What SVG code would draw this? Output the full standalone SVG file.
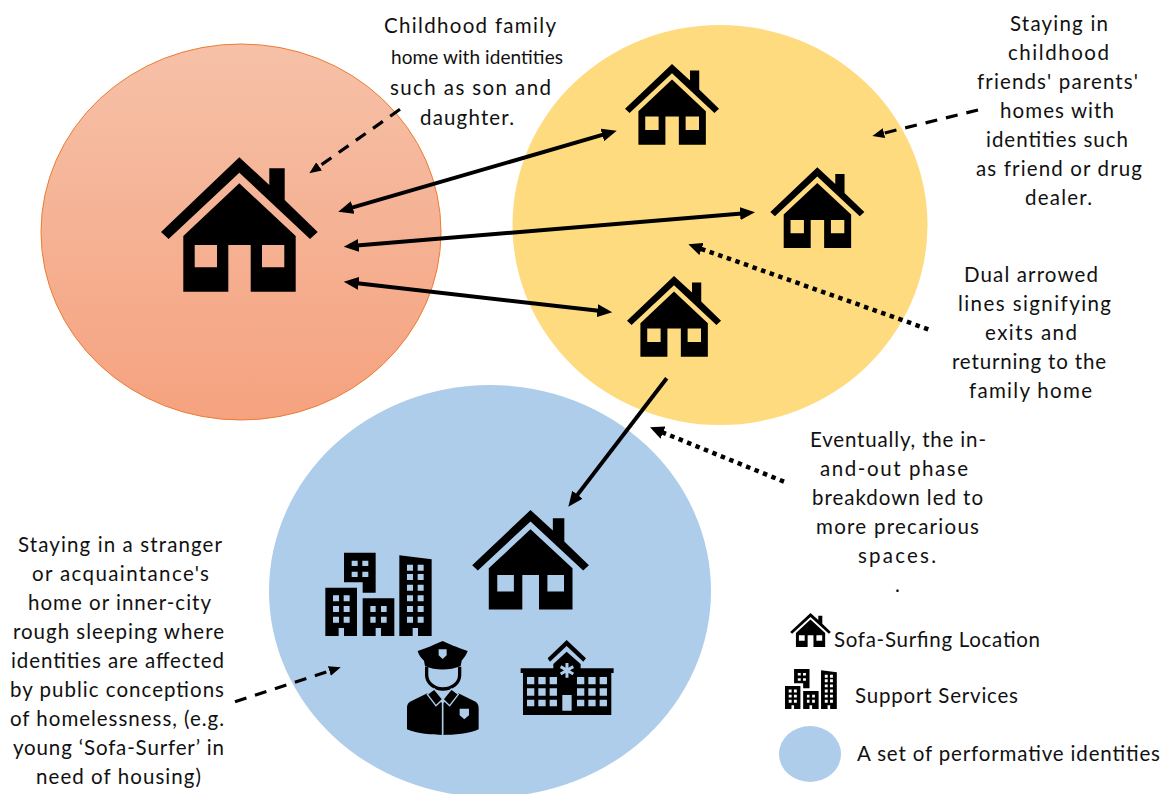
<svg xmlns="http://www.w3.org/2000/svg" xmlns:xlink="http://www.w3.org/1999/xlink" width="1173" height="794" viewBox="0 0 1173 794">
<style>
text{font-family:"Lato","Liberation Sans",sans-serif;font-size:20.500px;fill:#111}
.m{stroke:#000;fill:none;stroke-width:4}
.d{stroke:#000;fill:none;stroke-width:3.200;stroke-dasharray:12 9}
.o{stroke:#000;fill:none;stroke-width:4.500;stroke-dasharray:4.500 4.600}
.b{fill:#aecdea}
</style>
<defs>
<linearGradient id="og" x1="0" y1="0" x2="0" y2="1"><stop offset="0" stop-color="#f6c1a8"/><stop offset="1" stop-color="#f5a27f"/></linearGradient>
<marker id="ah" viewBox="0 0 15 13" refX="8" refY="6.500" markerUnits="userSpaceOnUse" markerWidth="15" markerHeight="13" orient="auto-start-reverse"><path d="M0 0L15 6.500L0 13Z" fill="#000"/></marker>
<marker id="as" viewBox="0 0 12 10" refX="7" refY="5" markerUnits="userSpaceOnUse" markerWidth="12" markerHeight="10" orient="auto"><path d="M0 0L12 5L0 10Z" fill="#000"/></marker>
<marker id="at" viewBox="0 0 14 13" refX="8" refY="6.500" markerUnits="userSpaceOnUse" markerWidth="14" markerHeight="13" orient="auto"><path d="M0 0L14 6.500L0 13Z" fill="#000"/></marker>
<g id="house">
<path d="M0 0L30 27.700V11H45.400V42.700L78.400 74.700L70.700 81.700L0 15.400L-70.700 81.700L-78.300 74.700Z"/>
<path fill-rule="evenodd" d="M0 26L56.400 78.700V134.400H11.400V87.700H-11V134.400H-56V78.700ZM-44.600 87.700V110H-22.300V87.700ZM22.700 87.700V110H45V87.700Z"/>
</g>
<path id="city" fill-rule="evenodd" d="M102 38H197V158H158V127H102ZM125 62V78H143V62ZM157 62V78H175V62ZM125 95V111H143V95ZM157 95V111H175V95Z
M46 143H141V288H102V264H86V288H46ZM69 166V184H87V166ZM101 166V184H119V166ZM69 198V216H87V198ZM101 198V216H119V198ZM69 230V248H87V230ZM101 230V248H119V230Z
M158 175H253V288H213V264H197V288H158ZM181 198V216H197V198ZM213 198V216H230V198ZM181 230V248H197V230ZM213 230V248H230V230Z
M268 46L365 58V288H324V264H308V288H268ZM291 74V92H309V74ZM323 74V92H341V74ZM291 102V120H309V102ZM323 102V120H341V102ZM291 134V152H309V134ZM323 134V152H341V134ZM291 166V184H309V166ZM323 166V184H341V166ZM291 198V216H309V198ZM323 198V216H341V198ZM291 230V248H309V230ZM323 230V248H341V230Z"/>
</defs>
<g id="circle-family"><ellipse cx="241" cy="232" rx="200" ry="188" fill="url(#og)" stroke="#ed7d31" stroke-width="1"/></g>
<g id="circle-friends"><ellipse cx="720" cy="225" rx="207.500" ry="200" fill="#ffdb80"/></g>
<g id="circle-public"><ellipse cx="490" cy="591" rx="221" ry="206" class="b"/></g>
<g id="house-family"><use xlink:href="#house" href="#house" transform="translate(239.300 157.300)"/></g>
<g id="house-friend-1"><use xlink:href="#house" href="#house" transform="translate(672 64) scale(.6)"/></g>
<g id="house-friend-2"><use xlink:href="#house" href="#house" transform="translate(817.300 167.300) scale(.6)"/></g>
<g id="house-friend-3"><use xlink:href="#house" href="#house" transform="translate(674 276) scale(.6)"/></g>
<g id="house-public"><use xlink:href="#house" href="#house" transform="translate(530.500 510) scale(.745 .74)"/></g>
<g id="buildings"><use xlink:href="#city" href="#city" transform="translate(310 540) scale(.3333)"/></g>
<g id="police" transform="translate(310 540) scale(.3333)">
<path d="M398 303C430 318 450 325 473 333C470 345 460 355 455 362L452 378C420 392 375 392 345 378L342 362C335 355 325 345 323 333C350 325 370 315 398 303Z"/>
<path class="b" d="M386 328H410V346L398 357L386 346Z"/>
<path d="M350 380V405C350 430 375 447 398 447C425 447 449 430 449 405V380" fill="none" stroke="#000" stroke-width="10"/>
<path d="M352 460L300 485C293 490 291 495 291 505V568C320 582 370 585 398 585C430 585 480 582 506 568V505C506 495 503 490 497 485L445 460L398 490Z"/>
<path d="M373 447L398 478L378 497L352 463ZM424 447L399 478L419 497L445 463Z" stroke="#aecdea" stroke-width="4"/>
<path d="M398 478V585" stroke="#aecdea" stroke-width="5"/>
<path class="b" d="M449 506H477V526L463 538L449 526Z"/>
</g>
<g id="hospital" transform="translate(310 540) scale(.3333)">
<path d="M770 300L828 355L820 365L770 318L720 365L713 355Z"/>
<path fill-rule="evenodd" d="M770 335L812 372V385H911V399H904V525H639V399H632V385H730V372ZM651 411V433H673V411ZM685 411V433H707V411ZM719 411V433H741V411ZM801 411V433H823V411ZM835 411V433H857V411ZM869 411V433H891V411ZM651 445V467H673V445ZM685 445V467H707V445ZM719 445V467H741V445ZM801 445V467H823V445ZM835 445V467H857V445ZM869 445V467H891V445ZM651 479V499H673V479ZM685 479V499H707V479ZM719 479V499H741V479ZM801 479V499H823V479ZM835 479V499H857V479ZM869 479V499H891V479ZM757 465V512H785V465Z"/>
<path d="M771 369V413M752 380L790 402M752 402L790 380" stroke="#aecdea" stroke-width="9" fill="none"/>
</g>
<g id="connectors">
<path class="m" marker-start="url(#ah)" marker-end="url(#ah)" d="M345 209.700L610 132.700"/>
<path class="m" marker-start="url(#ah)" marker-end="url(#ah)" d="M350.700 246.100L748 212.900"/>
<path class="m" marker-start="url(#ah)" marker-end="url(#ah)" d="M350.700 282.500L605.300 311.500"/>
<path class="m" marker-end="url(#ah)" d="M666.700 378.300L572.600 501.100"/>
<path class="d" marker-end="url(#as)" d="M400 109.300L313.400 170.400"/>
<path class="d" marker-end="url(#as)" d="M978 110L877.200 134.800"/>
<path class="d" marker-end="url(#as)" d="M235 701.700L336 668.800"/>
<path class="o" marker-end="url(#at)" d="M928.300 329.300L694 246.300"/>
<path class="o" marker-end="url(#at)" d="M784 481.700L655.600 429.600"/>
</g>
<g id="label-family"><text x="384" y="33" textLength="172">Childhood family</text><text x="391" y="64" textLength="172" style="font-size:19px">home with identities</text><text x="390" y="95" textLength="161">such as son and</text><text x="420" y="125" textLength="94">daughter.</text></g>
<g id="label-friends"><text x="1010" y="31" textLength="98">Staying in</text><text x="1008" y="60" textLength="101">childhood</text><text x="977" y="89" textLength="161">friends' parents'</text><text x="1000" y="118" textLength="114">homes with</text><text x="986" y="147" textLength="142">identities such</text><text x="976" y="176" textLength="166">as friend or drug</text><text x="1025" y="205" textLength="67">dealer.</text></g>
<g id="label-dual"><text x="964" y="282" textLength="134">Dual arrowed</text><text x="958" y="311" textLength="153">lines signifying</text><text x="985" y="340" textLength="92">exits and</text><text x="952" y="369" textLength="154">returning to the</text><text x="969" y="398" textLength="123">family home</text></g>
<g id="label-eventually"><text x="810" y="447" textLength="176">Eventually, the in-</text><text x="820" y="476" textLength="148">and-out phase</text><text x="812" y="505" textLength="171">breakdown led to</text><text x="816" y="534" textLength="163">more precarious</text><text x="858" y="563" textLength="78">spaces.</text><text x="895" y="592">.</text></g>
<g id="label-public"><text x="18" y="552" textLength="204">Staying in a stranger</text><text x="32" y="581" textLength="177">or acquaintance's</text><text x="28" y="610" textLength="183">home or inner-city</text><text x="13" y="639" textLength="211">rough sleeping where</text><text x="11" y="668" textLength="213">identities are affected</text><text x="10" y="697" textLength="214">by public conceptions</text><text x="10" y="726" textLength="214">of homelessness, (e.g.</text><text x="13" y="755" textLength="211">young ‘Sofa-Surfer’ in</text><text x="36" y="784" textLength="165">need of housing)</text></g>
<g id="legend-house"><use xlink:href="#house" href="#house" transform="translate(810.500 613) scale(.26 .253)"/><text x="834" y="647" textLength="206">Sofa-Surfing Location</text></g>
<g id="legend-services"><use xlink:href="#city" href="#city" transform="translate(777.500 663) scale(.1625 .16)"/><text x="855" y="703" textLength="163">Support Services</text></g>
<g id="legend-identities"><ellipse cx="810" cy="754" rx="31" ry="28" class="b"/><text x="857" y="761" textLength="303">A set of performative identities</text></g>
</svg>
